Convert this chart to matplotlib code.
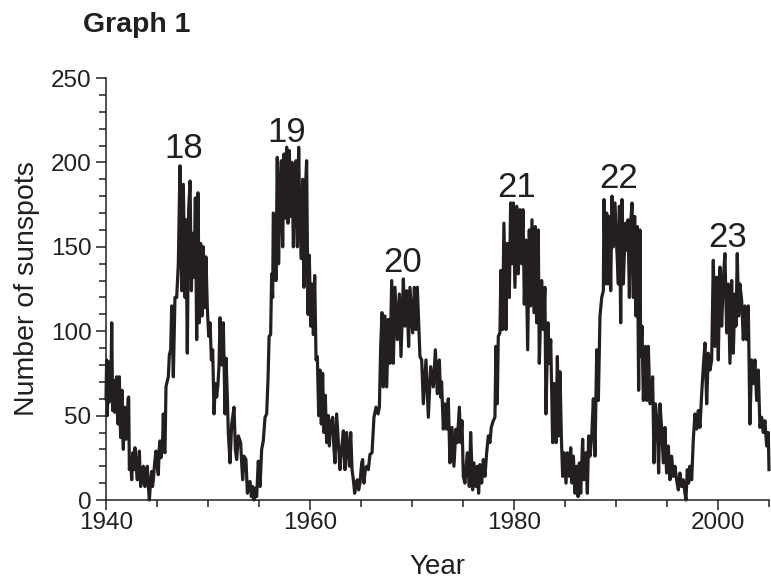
"""Monthly sunspot numbers 1940-2005 with solar cycles 18-23 labelled."""
import matplotlib

matplotlib.use("Agg")
import matplotlib.pyplot as plt
from matplotlib.ticker import MultipleLocator

INK = "#231f20"

# values (decimal year, sunspot number)
year = [
    1940.00, 1940.06, 1940.13, 1940.23, 1940.31, 1940.39, 1940.47, 1940.56, 1940.65, 1940.78,
    1940.85, 1940.92, 1941.00, 1941.05, 1941.12, 1941.18, 1941.25, 1941.31, 1941.38, 1941.44,
    1941.52, 1941.57, 1941.64, 1941.70, 1941.77, 1941.83, 1941.90, 1941.96, 1942.03, 1942.09,
    1942.16, 1942.22, 1942.29, 1942.40, 1942.52, 1942.62, 1942.72, 1942.84, 1942.95, 1943.07,
    1943.17, 1943.27, 1943.34, 1943.40, 1943.52, 1943.66, 1943.74, 1943.82, 1943.94, 1944.05,
    1944.15, 1944.25, 1944.36, 1944.48, 1944.56, 1944.64, 1944.77, 1944.90, 1945.02, 1945.13,
    1945.21, 1945.29, 1945.38, 1945.46, 1945.54, 1945.62, 1945.70, 1945.78, 1945.88, 1945.95,
    1946.11, 1946.21, 1946.34, 1946.44, 1946.60, 1946.76, 1946.93, 1947.09, 1947.25, 1947.42,
    1947.58, 1947.75, 1947.84, 1947.97, 1948.10, 1948.24, 1948.37, 1948.50, 1948.63, 1948.76,
    1948.89, 1949.02, 1949.15, 1949.28, 1949.41, 1949.54, 1949.67, 1949.80, 1949.93, 1950.07,
    1950.20, 1950.33, 1950.46, 1950.59, 1950.72, 1950.85, 1950.98, 1951.08, 1951.18, 1951.34,
    1951.50, 1951.67, 1951.77, 1951.90, 1951.99, 1952.16, 1952.32, 1952.55, 1952.68, 1952.81,
    1952.97, 1953.20, 1953.30, 1953.40, 1953.53, 1953.72, 1953.86, 1953.99, 1954.12, 1954.25,
    1954.38, 1954.51, 1954.64, 1954.77, 1954.93, 1955.10, 1955.26, 1955.42, 1955.59, 1955.75,
    1955.88, 1955.99, 1956.14, 1956.24, 1956.34, 1956.40, 1956.53, 1956.66, 1956.79, 1956.92,
    1957.06, 1957.19, 1957.32, 1957.45, 1957.58, 1957.71, 1957.84, 1957.97, 1958.10, 1958.23,
    1958.37, 1958.50, 1958.63, 1958.76, 1958.89, 1958.99, 1959.15, 1959.28, 1959.41, 1959.54,
    1959.67, 1959.80, 1959.93, 1960.07, 1960.20, 1960.33, 1960.46, 1960.59, 1960.72, 1960.85,
    1960.98, 1961.11, 1961.24, 1961.37, 1961.50, 1961.63, 1961.80, 1961.90, 1962.03, 1962.22,
    1962.35, 1962.45, 1962.61, 1962.78, 1962.94, 1963.10, 1963.27, 1963.43, 1963.59, 1963.72,
    1963.86, 1963.99, 1964.12, 1964.25, 1964.38, 1964.51, 1964.64, 1964.77, 1964.90, 1965.07,
    1965.16, 1965.29, 1965.42, 1965.56, 1965.72, 1965.88, 1966.08, 1966.27, 1966.47, 1966.67,
    1966.80, 1966.93, 1967.06, 1967.19, 1967.35, 1967.52, 1967.68, 1967.84, 1968.01, 1968.17,
    1968.33, 1968.56, 1968.76, 1968.92, 1969.15, 1969.31, 1969.48, 1969.67, 1969.80, 1970.07,
    1970.23, 1970.39, 1970.52, 1970.78, 1970.95, 1971.11, 1971.37, 1971.60, 1971.83, 1972.09,
    1972.29, 1972.48, 1972.68, 1972.80, 1972.90, 1973.07, 1973.23, 1973.39, 1973.56, 1973.72,
    1973.92, 1974.11, 1974.31, 1974.44, 1974.64, 1974.77, 1974.90, 1975.03, 1975.19, 1975.42,
    1975.62, 1975.75, 1975.94, 1976.07, 1976.27, 1976.40, 1976.53, 1976.66, 1976.83, 1976.99,
    1977.15, 1977.32, 1977.48, 1977.64, 1977.77, 1977.97, 1978.13, 1978.23, 1978.36, 1978.46,
    1978.62, 1978.72, 1978.88, 1979.01, 1979.21, 1979.34, 1979.54, 1979.67, 1979.80, 1979.93,
    1980.09, 1980.26, 1980.42, 1980.59, 1980.75, 1980.88, 1981.01, 1981.17, 1981.34, 1981.50,
    1981.63, 1981.76, 1981.96, 1982.09, 1982.22, 1982.38, 1982.48, 1982.71, 1982.87, 1983.03,
    1983.13, 1983.33, 1983.46, 1983.60, 1983.79, 1983.92, 1984.12, 1984.25, 1984.38, 1984.51,
    1984.64, 1984.77, 1984.90, 1985.10, 1985.23, 1985.43, 1985.56, 1985.69, 1985.82, 1985.98,
    1986.14, 1986.28, 1986.41, 1986.54, 1986.73, 1986.86, 1987.06, 1987.19, 1987.32, 1987.45,
    1987.62, 1987.78, 1987.94, 1988.11, 1988.27, 1988.43, 1988.60, 1988.76, 1988.82, 1988.96,
    1989.09, 1989.22, 1989.35, 1989.48, 1989.61, 1989.74, 1989.90, 1990.07, 1990.23, 1990.33,
    1990.46, 1990.59, 1990.72, 1990.92, 1991.05, 1991.18, 1991.31, 1991.44, 1991.57, 1991.70,
    1991.83, 1991.96, 1992.09, 1992.22, 1992.35, 1992.42, 1992.55, 1992.68, 1992.88, 1993.01,
    1993.17, 1993.33, 1993.50, 1993.59, 1993.73, 1993.86, 1994.05, 1994.18, 1994.31, 1994.47,
    1994.64, 1994.80, 1994.96, 1995.13, 1995.29, 1995.45, 1995.62, 1995.78, 1995.94, 1996.11,
    1996.27, 1996.43, 1996.60, 1996.76, 1996.86, 1996.99, 1997.12, 1997.25, 1997.42, 1997.58,
    1997.74, 1997.91, 1998.07, 1998.23, 1998.40, 1998.56, 1998.72, 1998.89, 1999.05, 1999.21,
    1999.38, 1999.54, 1999.70, 1999.87, 2000.03, 2000.19, 2000.36, 2000.52, 2000.68, 2000.85,
    2001.01, 2001.17, 2001.34, 2001.50, 2001.66, 2001.76, 2001.89, 2002.02, 2002.15, 2002.32,
    2002.48, 2002.64, 2002.81, 2002.97, 2003.13, 2003.30, 2003.46, 2003.62, 2003.79, 2003.95,
    2004.11, 2004.28, 2004.44, 2004.60, 2004.77, 2004.93, 2005.00,
]

sunspots = [
    60, 83, 50, 82, 58, 80, 62, 105, 53, 71,
    52, 57, 66, 73, 50, 45, 64, 73, 48, 37,
    58, 65, 40, 30, 48, 55, 38, 36, 50, 45,
    60, 61, 18, 25, 12, 28, 18, 31, 20, 12,
    22, 29, 15, 8, 18, 20, 10, 8, 17, 20,
    8, 0, 10, 17, 8, 12, 22, 29, 20, 15,
    30, 35, 25, 28, 33, 51, 30, 28, 67, 69,
    73, 86, 89, 115, 73, 120, 120, 140, 198, 124,
    187, 120, 166, 87, 172, 189, 124, 158, 132, 179,
    95, 182, 105, 152, 109, 150, 114, 144, 114, 97,
    105, 83, 89, 51, 69, 61, 69, 80, 108, 80,
    105, 51, 84, 60, 40, 22, 45, 55, 30, 24,
    38, 34, 22, 12, 26, 24, 4, 10, 11, 2,
    8, 0, 7, 2, 23, 8, 30, 35, 49, 51,
    71, 97, 98, 134, 120, 170, 168, 130, 203, 140,
    185, 201, 150, 205, 167, 209, 164, 207, 168, 200,
    150, 185, 201, 150, 209, 168, 143, 190, 126, 184,
    201, 110, 145, 103, 128, 98, 133, 83, 85, 50,
    77, 45, 75, 40, 62, 34, 50, 32, 45, 49,
    30, 22, 51, 34, 18, 30, 41, 18, 40, 30,
    20, 40, 18, 12, 4, 10, 12, 6, 10, 22,
    24, 10, 18, 20, 18, 27, 28, 49, 55, 51,
    55, 91, 111, 67, 109, 67, 107, 81, 130, 81,
    126, 95, 122, 85, 131, 103, 124, 91, 126, 99,
    126, 101, 126, 85, 83, 57, 83, 49, 79, 67,
    89, 63, 83, 61, 70, 42, 57, 42, 60, 22,
    43, 20, 42, 34, 55, 34, 47, 14, 10, 28,
    8, 40, 6, 22, 8, 20, 4, 21, 10, 24,
    14, 28, 38, 34, 43, 47, 49, 91, 57, 97,
    99, 136, 101, 164, 101, 152, 120, 176, 140, 176,
    126, 174, 134, 172, 140, 172, 116, 154, 89, 160,
    115, 166, 111, 162, 105, 160, 81, 130, 101, 126,
    51, 105, 81, 95, 34, 69, 34, 85, 38, 76,
    38, 14, 28, 10, 28, 14, 31, 10, 26, 4,
    20, 2, 22, 4, 36, 12, 28, 4, 38, 26,
    38, 60, 26, 89, 59, 109, 120, 124, 178, 128,
    170, 128, 168, 124, 180, 150, 176, 150, 128, 174,
    105, 178, 128, 164, 148, 166, 120, 164, 176, 120,
    168, 109, 162, 65, 160, 85, 103, 59, 91, 59,
    91, 57, 59, 73, 22, 57, 45, 16, 57, 43,
    22, 43, 16, 32, 12, 26, 14, 20, 12, 6,
    16, 8, 12, 4, 0, 18, 10, 20, 12, 36,
    51, 42, 53, 43, 63, 79, 93, 57, 87, 77,
    83, 142, 91, 132, 83, 138, 103, 130, 146, 99,
    128, 81, 130, 87, 122, 103, 146, 109, 128, 118,
    95, 115, 95, 115, 45, 83, 69, 83, 59, 77,
    43, 49, 40, 47, 32, 40, 18,
]

cycle_names = ["18", "19", "20", "21", "22", "23"]
cycle_year = [1947.65, 1957.75, 1969.1, 1980.3, 1990.3, 2000.9]
cycle_top = [202.4, 212.3, 134.8, 179.7, 184.7, 150.1]

plt.rcParams["font.family"] = ["Liberation Sans", "DejaVu Sans"]

fig = plt.figure(figsize=(7.71, 5.84), dpi=100)
ax = fig.add_axes([0.1375, 0.1438, 0.8599, 0.7226])

ax.plot(year, sunspots, color=INK, lw=2.3, clip_on=False)

for name, x, y in zip(cycle_names, cycle_year, cycle_top):
    ax.text(x, y, name, ha="center", va="baseline", fontsize=25, color=INK)

ax.set_xlim(1940, 2005)
ax.set_ylim(0, 250)
ax.spines[["top", "right"]].set_visible(False)
for side in ["left", "bottom"]:
    ax.spines[side].set_linewidth(1.1)
    ax.spines[side].set_color(INK)

ax.xaxis.set_major_locator(MultipleLocator(20))
ax.xaxis.set_minor_locator(MultipleLocator(5))
ax.yaxis.set_major_locator(MultipleLocator(50))
ax.yaxis.set_minor_locator(MultipleLocator(10))
ax.tick_params(which="major", length=7.5, width=1.1, color=INK,
               labelsize=17.5, labelcolor=INK)
ax.tick_params(which="minor", length=4.8, width=1.1, color=INK)
ax.tick_params(axis="x", pad=1)
ax.tick_params(axis="y", pad=3)

ax.set_xlabel("Year", fontsize=20, color=INK)
ax.xaxis.set_label_coords(0.5, -0.128)
ax.set_ylabel("Number of sunspots", fontsize=20.5, color=INK)
ax.yaxis.set_label_coords(-0.1, 0.5)

fig.text(83 / 771, 1 - 32 / 584, "Graph 1", fontsize=20.5, fontweight="bold",
         ha="left", va="baseline", color=INK)

fig.savefig("out.png", dpi=100)
